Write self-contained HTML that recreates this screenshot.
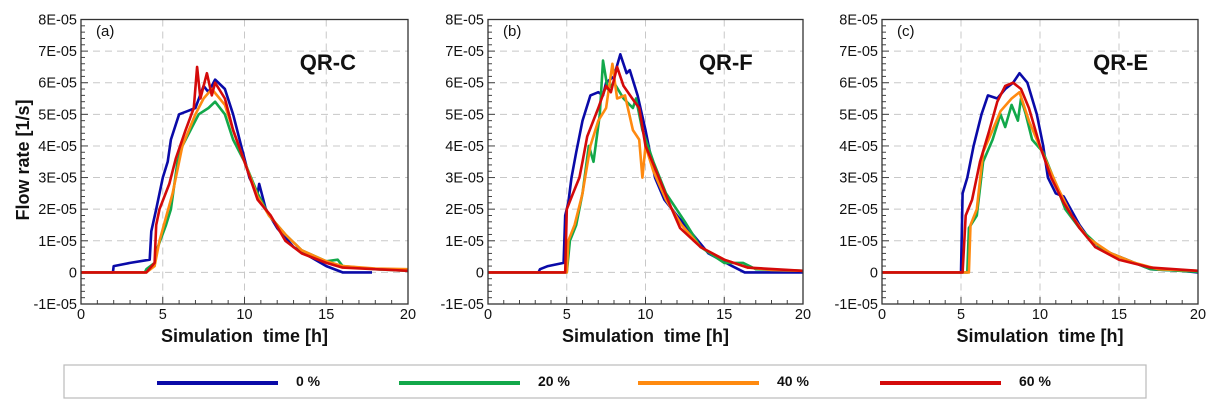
<!DOCTYPE html>
<html><head><meta charset="utf-8"><style>
body{margin:0;background:#fff;width:1219px;height:413px;overflow:hidden;font-family:"Liberation Sans",sans-serif}
svg{display:block}
</style></head><body>
<svg id="chart" width="1219" height="413"></svg>
<script>
const seriesNames=["0 %","20 %","40 %","60 %"];
const seriesColors=["#0a0aa8","#12a84a","#ff8a10","#d40a0a"];
const panelLabels=["(a)","(b)","(c)"];
const panelTitles=["QR-C","QR-F","QR-E"];
const yTicks=[-1,0,1,2,3,4,5,6,7,8];
const yTickLabels=["-1E-05","0","1E-05","2E-05","3E-05","4E-05","5E-05","6E-05","7E-05","8E-05"];
const xTicks=[0,5,10,15,20];
// panel a (values in 1E-05 units)
const aBlueT=[0,1.95,2,3,4.2,4.3,4.6,5.0,5.3,5.5,6.0,6.5,7.0,7.5,7.8,8.2,8.8,9.3,9.8,10.3,10.8,10.9,11.3,12,13,14,15,16,17.8];
const aBlueV=[0,0,0.2,0.3,0.4,1.3,2.0,3.0,3.5,4.2,5.0,5.1,5.2,5.9,5.7,6.1,5.8,5.0,4.0,3.0,2.5,2.8,2.0,1.4,0.8,0.5,0.2,0,0];
const aGreenT=[0,3.9,4.0,4.5,4.7,5.2,5.5,5.9,6.2,6.7,7.2,7.8,8.2,8.8,9.3,10,10.8,11.5,12.5,13.5,15,15.7,16,18,20];
const aGreenV=[0,0,0.1,0.3,0.8,1.5,2.0,3.5,4.0,4.5,5.0,5.2,5.4,5.0,4.2,3.5,2.5,1.8,1.2,0.7,0.35,0.4,0.2,0.1,0.05];
const aOrangeT=[0,4.0,4.5,4.8,5.6,6.2,7.0,7.5,8.0,8.8,9.3,10,10.8,11.5,12.5,13.5,15,16,18,20];
const aOrangeV=[0,0,0.2,1.0,2.5,4.0,5.0,5.5,5.8,5.3,4.5,3.5,2.4,1.8,1.2,0.7,0.35,0.2,0.12,0.1];
const aRedT=[0,4.0,4.5,4.6,4.8,5.4,5.8,6.4,6.9,7.1,7.3,7.7,8.0,8.2,8.8,9.3,10,10.8,11.6,12.5,13.5,15,16,18,20];
const aRedV=[0,0,0.3,1.5,2.0,2.8,3.6,4.5,5.2,6.5,5.5,6.3,5.6,6.0,5.5,4.5,3.5,2.3,1.8,1.0,0.6,0.3,0.15,0.1,0.05];
// panel b
const bBlueT=[0,3.2,3.3,3.8,4.8,4.9,5.1,5.3,5.6,6.0,6.5,7.0,7.3,7.5,8.0,8.4,8.8,9.0,9.5,10,10.6,11.2,12,13,14,15.5,16.3,20];
const bBlueV=[0,0,0.1,0.2,0.3,1.8,2.2,3.0,3.8,4.8,5.6,5.7,5.6,6.0,6.2,6.9,6.3,6.4,5.6,4.5,3.0,2.3,1.8,1.2,0.6,0.2,0,0];
const bGreenT=[0,5.0,5.2,5.6,6.0,6.4,6.7,7.1,7.3,7.6,8,8.6,9.2,9.4,9.8,10.5,11.3,12.5,13.5,15,16.2,17,20];
const bGreenV=[0,0,1.0,1.5,2.5,4.0,3.5,5.0,6.7,5.8,6.0,5.5,5.2,5.5,4.5,3.5,2.5,1.6,0.8,0.3,0.3,0.1,0.05];
const bOrangeT=[0,5.0,5.1,5.5,6.0,6.5,7.0,7.5,7.9,8.2,8.7,9.2,9.6,9.8,10.0,10.5,11.3,12.3,13.5,15,16.5,18,20];
const bOrangeV=[0,0,1.0,1.5,2.5,4.0,4.8,5.2,6.6,5.5,5.6,4.5,4.2,3.0,4.0,3.2,2.3,1.5,0.8,0.4,0.15,0.08,0.05];
const bRedT=[0,4.9,5.0,5.4,5.8,6.0,6.3,7.0,7.5,7.8,8.2,8.6,9.3,9.6,10,10.6,11.5,12.2,13.5,15,16.5,20];
const bRedV=[0,0,2.0,2.5,3.0,3.5,4.3,5.2,5.9,5.7,6.5,5.9,5.4,5.2,4.0,3.3,2.2,1.4,0.8,0.4,0.15,0.05];
// panel c
const cBlueT=[0,5.0,5.1,5.4,5.8,6.3,6.7,7.3,7.8,8.3,8.7,9.2,9.8,10.2,10.5,11,11.5,12.5,13.5,15,16,17,19,20];
const cBlueV=[0,0,2.5,3.0,4.0,5.0,5.6,5.5,5.8,6.0,6.3,6.0,5.0,4.0,3.0,2.5,2.4,1.5,0.8,0.5,0.3,0.1,0.05,0];
const cGreenT=[0,5.4,5.5,6.0,6.4,7.0,7.5,7.8,8.2,8.6,8.8,9.1,9.5,10.2,11,11.6,12.5,14,16,17,20];
const cGreenV=[0,0,1.4,1.8,3.5,4.2,5.0,4.6,5.3,4.8,5.5,5.0,4.2,3.8,2.8,2.0,1.4,0.7,0.3,0.1,0.02];
const cOrangeT=[0,5.5,5.6,6.0,6.4,7.0,7.5,8.2,8.7,9.3,9.8,10.4,11.2,12,13,14.5,16,17.5,20];
const cOrangeV=[0,0,1.5,2.0,3.8,4.5,5.1,5.5,5.7,4.8,4.2,3.5,2.6,1.8,1.1,0.6,0.3,0.1,0.05];
const cRedT=[0,5.1,5.3,5.7,6.2,6.8,7.3,7.8,8.3,8.8,9.3,10,10.7,11.5,12.5,13.5,15,17,20];
const cRedV=[0,0,1.8,2.3,3.5,4.5,5.4,5.9,6.0,5.8,5.2,4.0,3.0,2.2,1.4,0.8,0.4,0.15,0.05];

const panelData=[
 [[aBlueT,aBlueV],[aGreenT,aGreenV],[aOrangeT,aOrangeV],[aRedT,aRedV]],
 [[bBlueT,bBlueV],[bGreenT,bGreenV],[bOrangeT,bOrangeV],[bRedT,bRedV]],
 [[cBlueT,cBlueV],[cGreenT,cGreenV],[cOrangeT,cOrangeV],[cRedT,cRedV]]
];
const panelX0=[81,488,882], panelX1=[408,803,1198];
const yTop=19.5, yBot=304;
const NS="http://www.w3.org/2000/svg";
const svg=document.getElementById('chart');
function mk(tag,attrs,parent){const e=document.createElementNS(NS,tag);for(const k in attrs)e.setAttribute(k,attrs[k]);(parent||svg).appendChild(e);return e;}
function yS(v){return yBot-(v+1)/9*(yBot-yTop);}
for(let p=0;p<3;p++){
 const x0=panelX0[p],x1=panelX1[p];
 const xS=t=>x0+t/20*(x1-x0);
 const g=mk('g',{});
 
 
 yTicks.forEach(v=>{if(v>-1&&v<8){const l=mk('line',{x1:x0,x2:x1,y1:yS(v),y2:yS(v),stroke:'#c8c8c8','stroke-dasharray':'7,5','stroke-width':1},g);}});
 xTicks.forEach(t=>{if(t>0&&t<20){const l=mk('line',{x1:xS(t),x2:xS(t),y1:yTop,y2:yBot,stroke:'#c8c8c8','stroke-dasharray':'7,5','stroke-width':1},g);}});
 for(let t=0;t<=20;t++){mk('line',{x1:xS(t),x2:xS(t),y1:yBot,y2:yBot-(t%5?4:7),stroke:'#444','stroke-width':1},g);}
 for(let v=-1;v<=8;v+=0.2){const m=Math.abs(v-Math.round(v))<0.01;mk('line',{x1:x0,x2:x0+(m?7:4),y1:yS(v),y2:yS(v),stroke:'#444','stroke-width':1},g);}
 panelData[p].forEach((s,i)=>{
  const d=s[0].map((t,k)=>(k?'L':'M')+xS(t).toFixed(1)+','+yS(s[1][k]).toFixed(1)).join('');
  const path=mk('path',{d:d,fill:'none',stroke:seriesColors[i],'stroke-width':2.6,'stroke-linejoin':'round'},g);
  
  
 });
 const fr=mk('rect',{x:x0,y:yTop,width:x1-x0,height:yBot-yTop,fill:'none',stroke:'#333','stroke-width':1.3},g);
 
 yTicks.forEach((v,i)=>{const tx=mk('text',{x:x0-4,y:yS(v)+5,'text-anchor':'end','font-size':14.5,fill:'#111'},g);tx.textContent=yTickLabels[i];});
 xTicks.forEach(t=>{const tx=mk('text',{x:xS(t),y:yBot+15,'text-anchor':'middle','font-size':14.5,fill:'#111'},g);tx.textContent=t;});
 const pl=mk('text',{x:x0+15,y:36,'font-size':15,fill:'#111'},g);pl.textContent=panelLabels[p];
 const pt=mk('text',{x:x0+(x1-x0)*0.755,y:70,'text-anchor':'middle','font-size':22,'font-weight':'bold',fill:'#111'},g);pt.textContent=panelTitles[p];
 const xt=mk('text',{x:(x0+x1)/2,y:342,'text-anchor':'middle','font-size':18,'font-weight':'bold',fill:'#111'},g);xt.textContent='Simulation\u00a0 time [h]';
}
const yt=mk('text',{x:0,y:0,transform:'translate(29,160) rotate(-90)','text-anchor':'middle','font-size':18,'font-weight':'bold',fill:'#111'});
yt.textContent='Flow rate [1/s]';


const lg=mk('g',{});


mk('rect',{x:64,y:365,width:1082,height:33,fill:'#fff',stroke:'#bbb','stroke-width':1.2},lg);
const legX=[157,399,638,880];
seriesNames.forEach((n,i)=>{
 const e=mk('g',{},lg);
 
 
 mk('line',{x1:legX[i],x2:legX[i]+121,y1:383,y2:383,stroke:seriesColors[i],'stroke-width':4},e);
 const t=mk('text',{x:legX[i]+139,y:386,'font-size':14,'font-weight':'bold',fill:'#111'},e);t.textContent=n;
});
</script>
</body></html>
